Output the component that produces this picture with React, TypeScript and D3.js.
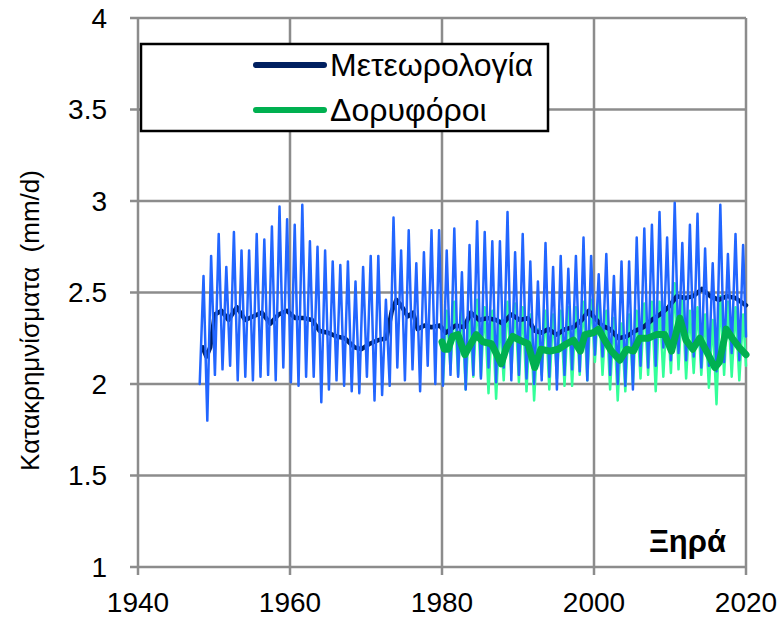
import React, { useEffect, useRef } from 'react';
import * as d3 from 'd3';

// Meteorological record: annual trough (early year) and peak (mid year)
const metYears = d3.range(1948, 2020);
const metTroughs = [
  2.00, 1.80, 2.05, 2.08, 2.10, 2.02, 2.04, 2.02, 2.04, 2.05,
  2.02, 2.09, 2.01, 1.99, 2.04, 2.04, 1.90, 1.97, 2.02, 1.99,
  1.96, 1.95, 2.04, 1.91, 1.94, 1.99, 2.09, 2.02, 2.08, 1.96,
  2.10, 2.00, 1.99, 2.05, 2.04, 1.97, 2.05, 2.03, 2.09, 2.01,
  2.09, 2.02, 2.05, 2.03, 2.00, 2.02, 2.04, 1.97, 2.05, 2.08,
  2.07, 2.02, 2.16, 2.15, 2.05, 2.00, 1.99, 1.97, 2.10, 2.09,
  2.10, 2.20, 2.13, 2.17, 2.13, 2.15, 2.09, 2.10, 2.07, 2.12,
  2.17, 2.13,
];
const metPeaks = [
  2.59, 2.70, 2.82, 2.64, 2.83, 2.73, 2.73, 2.82, 2.79, 2.86,
  2.97, 2.90, 2.87, 2.98, 2.78, 2.75, 2.73, 2.67, 2.65, 2.67,
  2.56, 2.64, 2.70, 2.70, 2.46, 2.91, 2.73, 2.84, 2.66, 2.72,
  2.84, 2.84, 2.73, 2.85, 2.61, 2.76, 2.89, 2.83, 2.78, 2.78,
  2.94, 2.72, 2.82, 2.67, 2.56, 2.77, 2.64, 2.70, 2.63, 2.70,
  2.80, 2.70, 2.60, 2.71, 2.59, 2.67, 2.67, 2.80, 2.85, 2.87,
  2.94, 2.80, 2.99, 2.77, 2.87, 2.93, 2.74, 2.66, 2.98, 2.71,
  2.82, 2.76,
];
const metEnd = 2.26;

// Meteorological 12-month running mean
const metSmoothX = [
  1948.5, 1949.0, 1949.5, 1950.1, 1951.0, 1951.9, 1953.0, 1954.1, 1955.2, 1956.3,
  1957.4, 1958.5, 1959.6, 1960.7, 1961.8, 1962.9, 1963.9, 1965.0, 1966.1, 1967.2,
  1968.5, 1969.4, 1970.5, 1971.6, 1972.7, 1973.4, 1974.0, 1974.6, 1975.5, 1976.2,
  1976.8, 1977.7, 1978.6, 1979.7, 1980.5, 1981.8, 1982.9, 1983.8, 1984.9, 1986.0,
  1987.1, 1988.0, 1989.1, 1990.2, 1991.3, 1992.2, 1993.1, 1994.0, 1995.1, 1996.2,
  1997.3, 1998.4, 1999.3, 1999.9, 2001.0, 2002.1, 2003.2, 2004.3, 2005.4, 2006.5,
  2007.6, 2008.7, 2009.8, 2010.9, 2012.0, 2013.1, 2014.2, 2015.3, 2016.4, 2017.5,
  2018.6, 2020.0,
];
const metSmoothY = [
  2.20, 2.15, 2.20, 2.38, 2.40, 2.35, 2.42, 2.35, 2.37, 2.39,
  2.33, 2.38, 2.40, 2.36, 2.36, 2.35, 2.29, 2.28, 2.26, 2.25,
  2.20, 2.19, 2.22, 2.24, 2.25, 2.40, 2.46, 2.43, 2.37, 2.39,
  2.30, 2.32, 2.31, 2.32, 2.28, 2.32, 2.31, 2.39, 2.35, 2.36,
  2.35, 2.33, 2.38, 2.35, 2.36, 2.29, 2.28, 2.30, 2.27, 2.30,
  2.31, 2.35, 2.40, 2.37, 2.32, 2.30, 2.25, 2.26, 2.29, 2.31,
  2.35, 2.38, 2.42, 2.48, 2.47, 2.48, 2.52, 2.48, 2.46, 2.48,
  2.47, 2.43,
];

// Satellite record: annual trough and peak
const satYears = d3.range(1980, 2020);
const satTroughs = [
  2.00, 2.08, 2.05, 1.97, 2.04, 2.04, 1.95, 1.92, 2.02, 2.06,
  2.01, 1.96, 1.91, 2.05, 1.97, 2.03, 1.99, 1.99, 2.05, 2.02,
  2.12, 2.05, 1.97, 1.91, 1.96, 2.00, 2.03, 2.05, 1.96, 2.04,
  2.06, 2.08, 2.03, 2.06, 2.05, 1.98, 1.89, 2.05, 2.04, 2.02,
];
const satPeaks = [
  2.40, 2.45, 2.42, 2.38, 2.46, 2.42, 2.40, 2.35, 2.45, 2.44,
  2.42, 2.38, 2.30, 2.40, 2.38, 2.40, 2.42, 2.42, 2.45, 2.46,
  2.48, 2.40, 2.36, 2.33, 2.38, 2.40, 2.44, 2.45, 2.45, 2.42,
  2.55, 2.48, 2.40, 2.42, 2.38, 2.35, 2.48, 2.45, 2.42, 2.38,
];
const satEnd = 2.10;

// Satellite 12-month running mean
const satSmoothX = [
  1980.0, 1980.3, 1980.8, 1981.4, 1982.1, 1983.0, 1983.8, 1984.5, 1985.4, 1986.5,
  1987.1, 1987.8, 1988.5, 1989.3, 1990.2, 1991.3, 1992.2, 1993.0, 1994.2, 1995.3,
  1996.4, 1997.3, 1998.2, 1998.8, 1999.9, 2000.6, 2001.4, 2002.3, 2003.4, 2004.3,
  2005.2, 2006.0, 2007.1, 2008.2, 2009.3, 2010.2, 2011.3, 2012.1, 2013.0, 2013.9,
  2014.8, 2015.9, 2016.5, 2017.4, 2018.2, 2019.1, 2020.0,
];
const satSmoothY = [
  2.23, 2.19, 2.19, 2.26, 2.27, 2.16, 2.22, 2.27, 2.23, 2.22,
  2.17, 2.11, 2.20, 2.26, 2.24, 2.22, 2.09, 2.19, 2.18, 2.19,
  2.22, 2.24, 2.18, 2.27, 2.28, 2.30, 2.24, 2.18, 2.13, 2.19,
  2.18, 2.25, 2.25, 2.27, 2.27, 2.18, 2.36, 2.24, 2.19, 2.25,
  2.18, 2.09, 2.12, 2.30, 2.25, 2.20, 2.16,
];

const yTicks = [1, 1.5, 2, 2.5, 3, 3.5, 4];
const xTicks = [1940, 1960, 1980, 2000, 2020];
const legendLabels = ['Μετεωρολογία', 'Δορυφόροι'];

type Pt = [number, number];

function zigzag(years: number[], troughs: number[], peaks: number[], end: number): Pt[] {
  const pts: Pt[] = [];
  years.forEach((yr, i) => {
    pts.push([yr + 0.12, troughs[i]]);
    pts.push([yr + 0.62, peaks[i]]);
  });
  pts.push([years[years.length - 1] + 1, end]);
  return pts;
}

export default function App() {
  const svgRef = useRef<SVGSVGElement | null>(null);

  useEffect(() => {
    if (!svgRef.current) return;
    const svg = d3.select(svgRef.current);
    svg.selectAll('*').remove();

    const width = 783;
    const height = 625;
    const margin = { top: 18, right: 37, bottom: 58, left: 138 };
    const font = '"Liberation Sans", Arial, sans-serif';

    const x = d3.scaleLinear().domain([1940, 2020]).range([margin.left, width - margin.right]);
    const y = d3.scaleLinear().domain([1, 4]).range([height - margin.bottom, margin.top]);

    const grid = '#8c8c8c';

    // Grid
    svg.append('g')
      .selectAll('line')
      .data(yTicks)
      .join('line')
      .attr('x1', x(1940) - 8)
      .attr('x2', x(2020))
      .attr('y1', d => y(d))
      .attr('y2', d => y(d))
      .attr('stroke', grid)
      .attr('stroke-width', 2.5);

    svg.append('g')
      .selectAll('line')
      .data(xTicks)
      .join('line')
      .attr('x1', d => x(d))
      .attr('x2', d => x(d))
      .attr('y1', y(4))
      .attr('y2', y(1) + 8)
      .attr('stroke', grid)
      .attr('stroke-width', 2.5);

    // Tick labels
    svg.append('g')
      .attr('font-family', font)
      .attr('font-size', 28)
      .attr('text-anchor', 'end')
      .selectAll('text')
      .data(yTicks)
      .join('text')
      .attr('x', x(1940) - 31)
      .attr('y', d => y(d))
      .attr('dy', '0.35em')
      .text(d => String(d));

    svg.append('g')
      .attr('font-family', font)
      .attr('font-size', 28)
      .attr('text-anchor', 'middle')
      .selectAll('text')
      .data(xTicks)
      .join('text')
      .attr('x', d => x(d))
      .attr('y', 612)
      .text(d => String(d));

    // Y axis title
    svg.append('text')
      .attr('transform', `translate(39,${(y(1) + y(4)) / 2 + 28}) rotate(-90)`)
      .attr('font-family', font)
      .attr('font-size', 26)
      .attr('text-anchor', 'middle')
      .attr('xml:space', 'preserve')
      .text('Κατακρημνίσματα  (mm/d)');

    const line = d3.line<Pt>().x(d => x(d[0])).y(d => y(d[1]));

    const satMonthly = zigzag(satYears, satTroughs, satPeaks, satEnd);
    const metMonthly = zigzag(metYears, metTroughs, metPeaks, metEnd);
    const metSmooth: Pt[] = metSmoothX.map((v, i) => [v, metSmoothY[i]]);
    const satSmooth: Pt[] = satSmoothX.map((v, i) => [v, satSmoothY[i]]);

    const lines = svg.append('g').attr('fill', 'none').attr('stroke-linejoin', 'round').attr('stroke-linecap', 'round');

    lines.append('path')
      .attr('d', line(satMonthly))
      .attr('stroke', '#33ff99')
      .attr('stroke-width', 2.5);

    lines.append('path')
      .attr('d', line(metSmooth))
      .attr('stroke', '#002060')
      .attr('stroke-width', 4.5);

    lines.append('path')
      .attr('d', line(metMonthly))
      .attr('stroke', '#2266ff')
      .attr('stroke-width', 2.5);

    lines.append('path')
      .attr('d', line(satSmooth))
      .attr('stroke', '#00b050')
      .attr('stroke-width', 7);

    // Legend
    const legend = svg.append('g');
    legend.append('rect')
      .attr('x', 141)
      .attr('y', 44)
      .attr('width', 407)
      .attr('height', 87)
      .attr('fill', '#fff')
      .attr('stroke', '#000')
      .attr('stroke-width', 2.5);

    const legendColors = ['#002060', '#00b050'];
    const item = legend.selectAll('g.item')
      .data(legendLabels)
      .join('g')
      .attr('class', 'item')
      .attr('transform', (d, i) => `translate(0,${65 + i * 45})`);

    item.append('line')
      .attr('x1', 256)
      .attr('x2', 324)
      .attr('stroke', (d, i) => legendColors[i])
      .attr('stroke-width', 6)
      .attr('stroke-linecap', 'round');

    item.append('text')
      .attr('x', 330)
      .attr('dy', '0.35em')
      .attr('font-family', font)
      .attr('font-size', 32)
      .text(d => d);

    // Region label
    svg.append('text')
      .attr('x', 726)
      .attr('y', 552)
      .attr('text-anchor', 'end')
      .attr('font-family', font)
      .attr('font-size', 31)
      .attr('font-weight', 'bold')
      .text('Ξηρά');
  }, []);

  return (
    <svg
      ref={svgRef}
      width={783}
      height={625}
      style={{ position: 'absolute', left: 0, top: 0, background: '#fff' }}
    />
  );
}
